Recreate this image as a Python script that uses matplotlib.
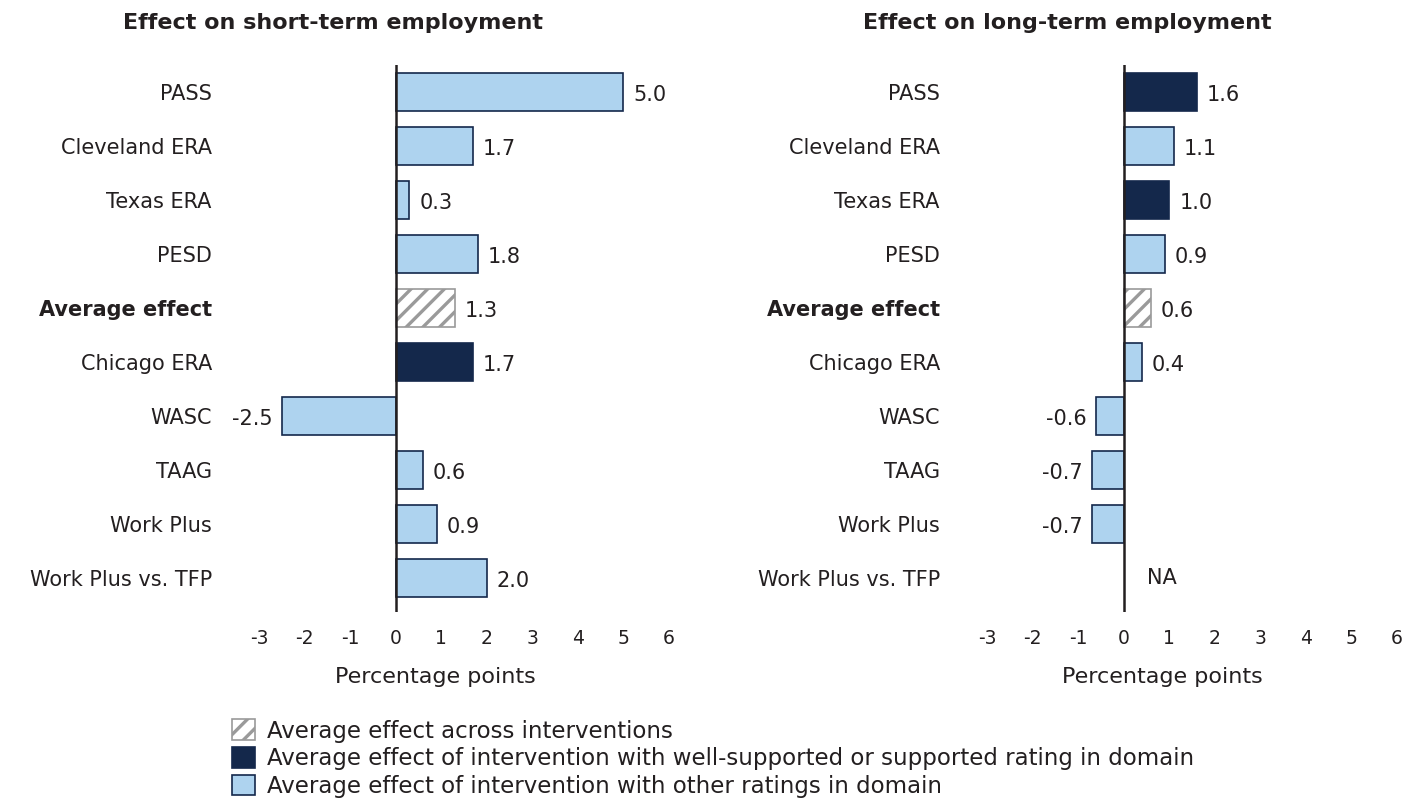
import matplotlib
matplotlib.use("Agg")
import matplotlib.pyplot as plt
from matplotlib.patches import Patch

plt.rcParams['font.family'] = ['DejaVu Sans']
plt.rcParams['hatch.color'] = '#9a9a9a'
plt.rcParams['hatch.linewidth'] = 2.4

categories = ["PASS", "Cleveland ERA", "Texas ERA", "PESD", "Average effect",
              "Chicago ERA", "WASC", "TAAG", "Work Plus", "Work Plus vs. TFP"]
short_vals = [5.0, 1.7, 0.3, 1.8, 1.3, 1.7, -2.5, 0.6, 0.9, 2.0]
short_type = ["other", "other", "other", "other", "avg", "good", "other", "other", "other", "other"]
long_vals = [1.6, 1.1, 1.0, 0.9, 0.6, 0.4, -0.6, -0.7, -0.7, None]
long_type = ["good", "other", "good", "other", "avg", "other", "other", "other", "other", "na"]
xticks = [-3, -2, -1, 0, 1, 2, 3, 4, 5, 6]
titles = ["Effect on short-term employment", "Effect on long-term employment"]
legend_labels = ["Average effect across interventions",
                 "Average effect of intervention with well-supported or supported rating in domain",
                 "Average effect of intervention with other ratings in domain"]

LIGHT = "#AED3EF"
DARK = "#14284B"
TXT = "#231f20"
FS = 15

fig = plt.figure(figsize=(14.2, 8.01), dpi=100)
ax1 = fig.add_axes([259/1420, 1-612/801, 410/1420, (612-65)/801])
ax2 = fig.add_axes([987/1420, 1-612/801, 410/1420, (612-65)/801])

def draw(ax, vals, types):
    ypos = list(range(len(categories)))
    for y, v, t in zip(ypos, vals, types):
        if t == "na":
            ax.text(0.52, y, "NA", ha="left", va="center", fontsize=FS, color=TXT)
            continue
        if t == "avg":
            ax.barh(y, v, height=0.72, color="white", edgecolor="#9a9a9a",
                    hatch="//", linewidth=1.2, zorder=2)
        elif t == "good":
            ax.barh(y, v, height=0.72, color=DARK, edgecolor=DARK, linewidth=1.2, zorder=2)
        else:
            ax.barh(y, v, height=0.72, color=LIGHT, edgecolor=DARK, linewidth=1.2, zorder=2)
        if v >= 0:
            ax.text(v + 0.22, y + 0.05, f"{v:.1f}", ha="left", va="center", fontsize=FS, color=TXT)
        else:
            ax.text(v - 0.2, y + 0.05, f"{v:.1f}", ha="right", va="center", fontsize=FS, color=TXT)
    ax.axvline(0, color=TXT, linewidth=1.8, zorder=3)
    ax.set_xlim(-3, 6)
    ax.set_ylim(9.63, -0.5)
    ax.set_xticks(xticks)
    ax.set_xticklabels([str(t) for t in xticks], fontsize=13.5, color=TXT)
    ax.set_yticks(ypos)
    ax.set_yticklabels(categories, fontsize=FS, color=TXT)
    for lab in ax.get_yticklabels():
        if lab.get_text() == "Average effect":
            lab.set_fontweight("bold")
    ax.tick_params(axis="y", length=0, pad=34)
    ax.tick_params(axis="x", length=0, pad=12)
    for s in ax.spines.values():
        s.set_visible(False)
    ax.set_xlabel("Percentage points", fontsize=16, color=TXT)

draw(ax1, short_vals, short_type)
draw(ax2, long_vals, long_type)
ax1.xaxis.set_label_coords((435-259)/410, -0.1)
ax2.xaxis.set_label_coords((1162-987)/410, -0.1)

fig.text(333/1420, 1-23/801, titles[0], ha="center", va="center", fontsize=16, fontweight="bold", color=TXT)
fig.text(1067/1420, 1-23/801, titles[1], ha="center", va="center", fontsize=16, fontweight="bold", color=TXT)

handles = [Patch(facecolor="white", edgecolor="#9a9a9a", hatch="//", linewidth=1.2),
           Patch(facecolor=DARK, edgecolor=DARK, linewidth=1.2),
           Patch(facecolor=LIGHT, edgecolor=DARK, linewidth=1.2)]
fig.legend(handles, legend_labels, loc="upper left", bbox_to_anchor=(221/1420, 1-708/801),
           frameon=False, fontsize=16.5, handlelength=1.0, handleheight=1.0,
           handletextpad=0.5, labelspacing=0.2, borderpad=0, labelcolor=TXT)

fig.savefig("out.png", dpi=100)
